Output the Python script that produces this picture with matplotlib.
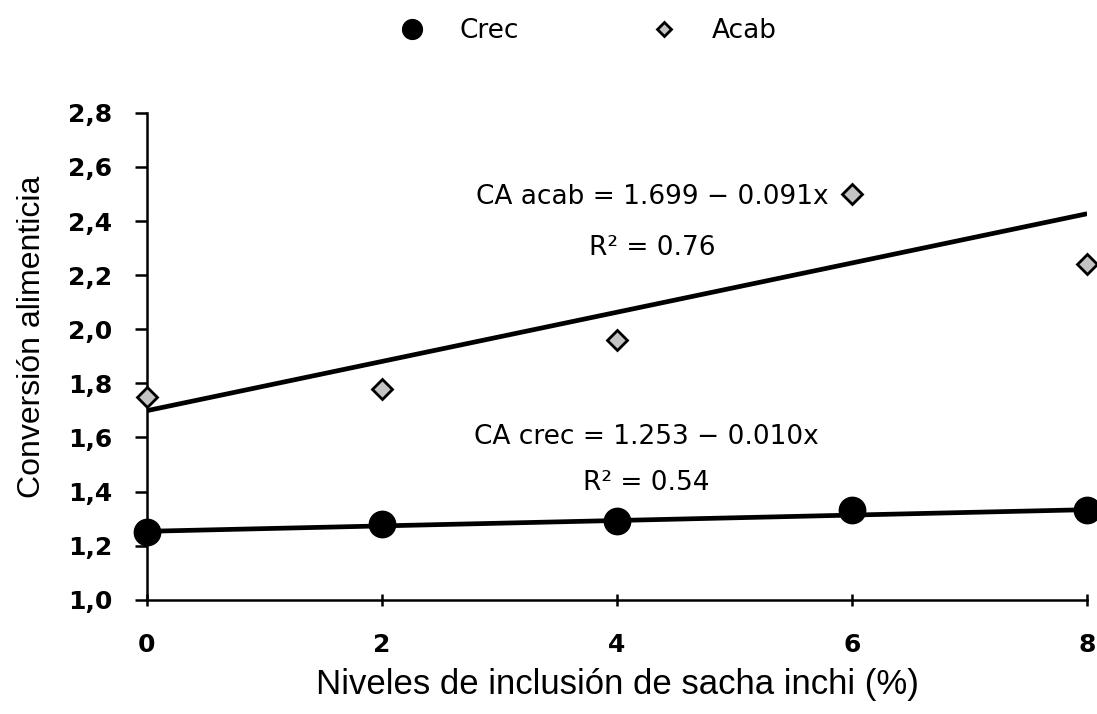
import matplotlib
matplotlib.use("Agg")
import matplotlib.pyplot as plt
import numpy as np
from matplotlib.ticker import FuncFormatter

# inclusion levels of sacha inchi (%)
niveles = [0, 2, 4, 6, 8]
crec = [1.25, 1.28, 1.29, 1.33, 1.33]
acab = [1.75, 1.78, 1.96, 2.50, 2.24]

# regression coefficients (intercept, slope)
crec_fit = (1.253, 0.010)
acab_fit = (1.699, 0.091)

eq_crec = ["CA crec = 1.253 \u2212 0.010x", "R\u00b2 = 0.54"]
eq_acab = ["CA acab = 1.699 \u2212 0.091x", "R\u00b2 = 0.76"]

y_ticks = [1.0, 1.2, 1.4, 1.6, 1.8, 2.0, 2.2, 2.4, 2.6, 2.8]
x_ticks = [0, 2, 4, 6, 8]

plt.rcParams["font.family"] = ["DejaVu Sans"]

fig = plt.figure(figsize=(10.97, 7.14), dpi=100)
ax = fig.add_axes([0.134, 0.160, 0.857, 0.682])

xs = np.array([0, 8])
ax.plot(xs, acab_fit[0] + acab_fit[1] * xs, color="black", lw=3.4,
        solid_capstyle="butt", zorder=2)
ax.plot(xs, crec_fit[0] + crec_fit[1] * xs, color="black", lw=3.4,
        solid_capstyle="butt", zorder=2)

ax.plot(niveles, crec, "o", ms=19, color="black", clip_on=False,
        zorder=3, label="Crec")
ax.plot(niveles, acab, "D", ms=10, mfc="#c4c4c4", mec="black", mew=2.0,
        clip_on=False, zorder=3, label="Acab")

ax.set_xlim(0, 8)
ax.set_ylim(1.0, 2.8)
ax.set_xticks(x_ticks)
ax.set_yticks(y_ticks)
ax.yaxis.set_major_formatter(FuncFormatter(lambda v, p: f"{v:.1f}".replace(".", ",")))

for s in ["top", "right"]:
    ax.spines[s].set_visible(False)
for s in ["left", "bottom"]:
    ax.spines[s].set_linewidth(1.8)

ax.tick_params(axis="both", labelsize=18, width=1.8)
ax.tick_params(axis="x", direction="inout", length=8, pad=20)
ax.tick_params(axis="y", direction="out", length=9, pad=16)
for lab in ax.get_xticklabels() + ax.get_yticklabels():
    lab.set_fontweight("bold")

ax.set_ylabel("Conversi\u00f3n alimenticia", fontsize=23,
              family=["Liberation Sans", "DejaVu Sans"])
ax.yaxis.set_label_coords(-0.106, 0.54)
ax.set_xlabel("Niveles de inclusi\u00f3n de sacha inchi (%)", fontsize=25,
              family=["Liberation Sans", "DejaVu Sans"], labelpad=8)

ax.text(4.3, 2.49, eq_acab[0], ha="center", va="center", fontsize=19)
ax.text(4.3, 2.30, eq_acab[1], ha="center", va="center", fontsize=19)
ax.text(4.25, 1.60, eq_crec[0], ha="center", va="center", fontsize=19)
ax.text(4.25, 1.43, eq_crec[1], ha="center", va="center", fontsize=19)

fig.legend(loc="upper center", bbox_to_anchor=(0.53, 1.008), ncol=2,
           frameon=False, fontsize=19, columnspacing=4.5, handletextpad=0.8,
           markerscale=0.75)

fig.savefig("out.png", dpi=100)
